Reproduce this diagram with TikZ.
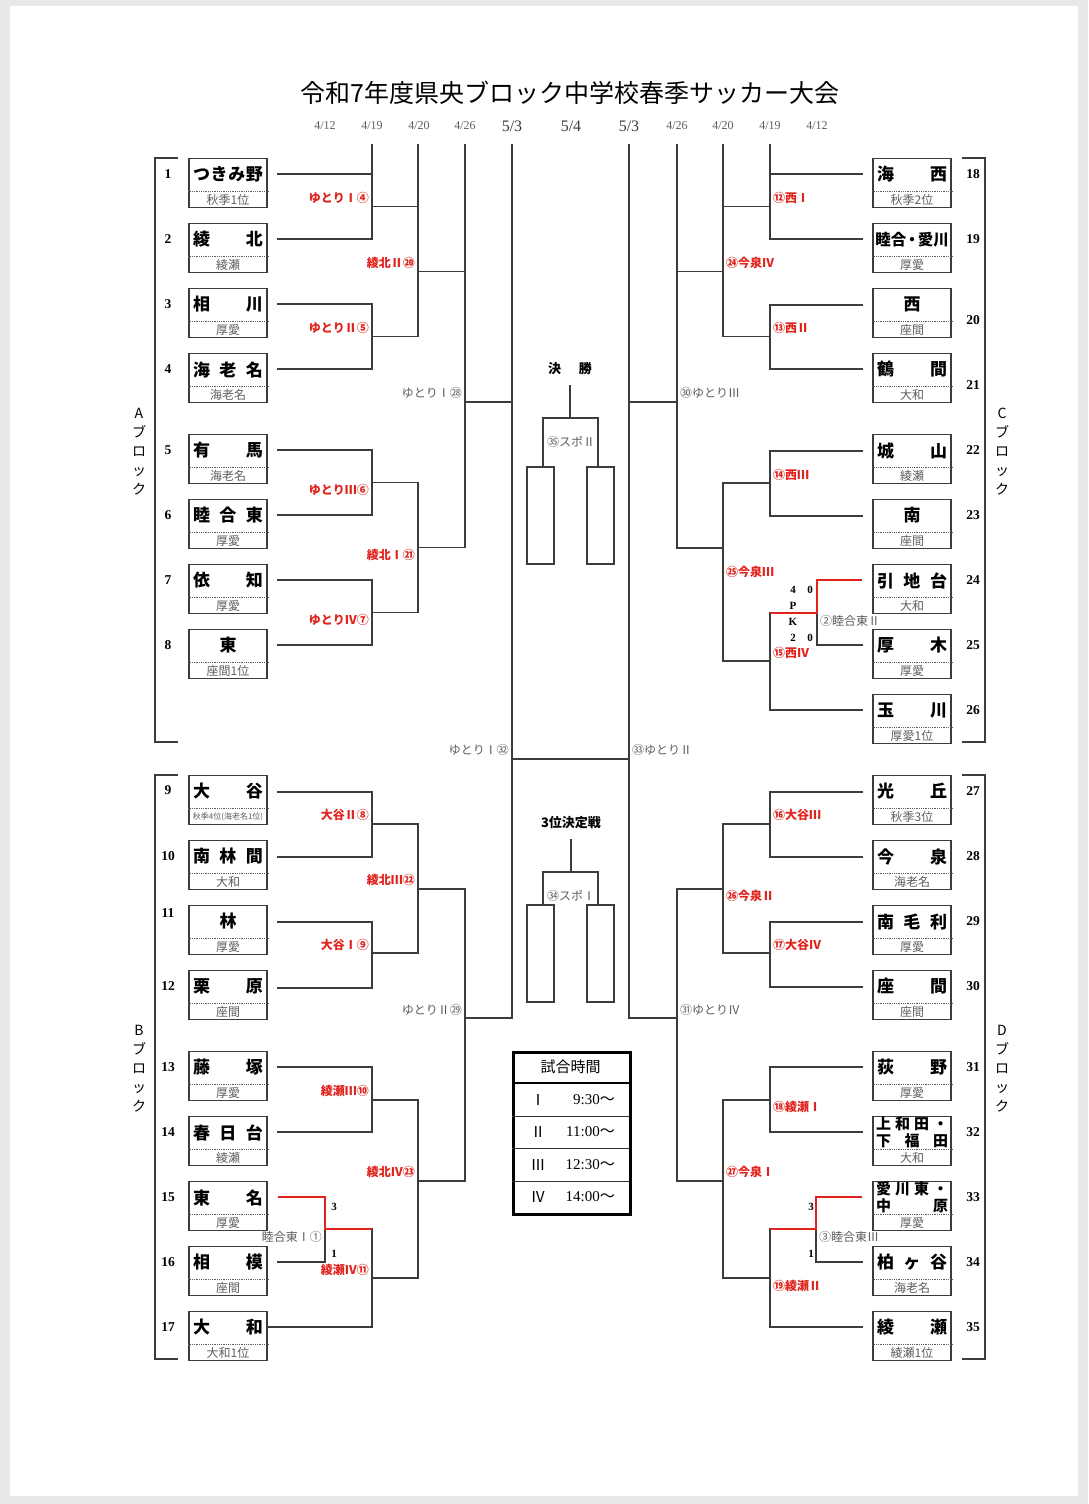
\documentclass[tikz,border=0pt]{standalone}
\usepackage{fontspec}
\setmainfont{Noto Sans CJK JP}
\newfontfamily\serif{Liberation Serif}
\definecolor{redA}{HTML}{E0231C}
\definecolor{lnc}{HTML}{3C3C3C}
\definecolor{grc}{HTML}{5E5E5E}
\tikzset{
 br/.style={draw=lnc,line width=1.2pt,line cap=rect},
 rd/.style={draw=redA,line width=2.2pt,line join=miter},
 sepln/.style={draw=grc,line width=0.5pt,dash pattern=on 1pt off 0.8pt},
 tname/.style={inner sep=0pt,font=\fontsize{17}{17}\selectfont\bfseries},
 tnamesm/.style={inner sep=0pt,font=\fontsize{15}{15}\selectfont\bfseries},
 tsub/.style={inner sep=0pt,font=\fontsize{12}{12}\selectfont,text=grc},
 rlab/.style={inner sep=0pt,font=\fontsize{12}{12}\selectfont\bfseries,text=redA},
 glab/.style={inner sep=0pt,font=\fontsize{12}{12}\selectfont,text=grc},
 num/.style={inner sep=0pt,font=\serif\fontsize{13.5}{14}\selectfont\bfseries},
 score/.style={inner sep=0pt,font=\serif\fontsize{11}{11}\selectfont\bfseries},
 datesm/.style={inner sep=0pt,font=\serif\fontsize{12}{12}\selectfont,text=grc},
 datebig/.style={inner sep=0pt,font=\serif\fontsize{16}{16}\selectfont,text=lnc},
 blk/.style={inner sep=0pt,align=center,font=\fontsize{14}{19}\selectfont},
 ctitle/.style={inner sep=0pt,font=\fontsize{13}{13}\selectfont\bfseries},
 ttab/.style={inner sep=0pt,font=\fontsize{15}{15}\selectfont},
}
% #1 node name, #2 centre x, #3 top y, #4 name, #5 sub
\newcommand\tbox[5]{%
 \node[draw=lnc,line width=1.3pt,minimum width=78pt,minimum height=49pt,inner sep=0pt,anchor=north] (#1) at (#2,#3) {};
 \draw[sepln] ([yshift=-33pt]#1.north west) -- ([yshift=-33pt]#1.north east);
 \node[tname] (#1n) at ([yshift=-16.5pt]#1.north) {\makebox[70pt]{#4}};
 \node[tsub] (#1s) at ([yshift=-41.5pt]#1.north) {#5};}
\newcommand\tboxtwo[6]{%
 \node[draw=lnc,line width=1.3pt,minimum width=78pt,minimum height=49pt,inner sep=0pt,anchor=north] (#1) at (#2,#3) {};
 \draw[sepln] ([yshift=-33pt]#1.north west) -- ([yshift=-33pt]#1.north east);
 \node[tnamesm] (#1a) at ([yshift=-8pt]#1.north) {\makebox[72pt]{#4}};
 \node[tnamesm] (#1b) at ([yshift=-24.5pt]#1.north) {\makebox[72pt]{#5}};
 \node[tsub] (#1s) at ([yshift=-41.5pt]#1.north) {#6};}
\begin{document}
\begin{tikzpicture}[x=1pt,y=-1pt]
\useasboundingbox (0,0) rectangle (1088,1504);
\fill[black!9] (0,0) rectangle (1088,1504);
\fill[white] (10,6) rectangle (1078,1496);
% title and dates
\node[inner sep=0pt,font=\fontsize{25}{25}\selectfont] (title) at (570,93) {令和7年度県央ブロック中学校春季サッカー大会};
\node[datesm] (d1) at (325,126) {4/12};
\node[datesm] (d2) at (372,126) {4/19};
\node[datesm] (d3) at (419,126) {4/20};
\node[datesm] (d4) at (465,126) {4/26};
\node[datebig] (d5) at (512,126) {5/3};
\node[datebig] (d6) at (571,126) {5/4};
\node[datebig] (d7) at (629,126) {5/3};
\node[datesm] (d8) at (677,126) {4/26};
\node[datesm] (d9) at (723,126) {4/20};
\node[datesm] (d10) at (770,126) {4/19};
\node[datesm] (d11) at (817,126) {4/12};
% block brackets
\draw[br,line cap=butt] (178,158)--(155,158)--(155,742)--(178,742);
\draw[br,line cap=butt] (178,775)--(155,775)--(155,1359)--(178,1359);
\draw[br,line cap=butt] (962,158)--(985,158)--(985,742)--(962,742);
\draw[br,line cap=butt] (962,775)--(985,775)--(985,1359)--(962,1359);
\node[blk] (bA) at (139,452) {A\\ブ\\ロ\\ッ\\ク};
\node[blk] (bC) at (1002,452) {C\\ブ\\ロ\\ッ\\ク};
\node[blk] (bB) at (139,1069) {B\\ブ\\ロ\\ッ\\ク};
\node[blk] (bD) at (1002,1069) {D\\ブ\\ロ\\ッ\\ク};
% left teams
\tbox{t1}{228}{158}{つ\hfill き\hfill み\hfill 野}{秋季1位}
\tbox{t2}{228}{223}{綾\hfill 北}{綾瀬}
\tbox{t3}{228}{288}{相\hfill 川}{厚愛}
\tbox{t4}{228}{353}{海\hfill 老\hfill 名}{海老名}
\tbox{t5}{228}{434}{有\hfill 馬}{海老名}
\tbox{t6}{228}{499}{睦\hfill 合\hfill 東}{厚愛}
\tbox{t7}{228}{564}{依\hfill 知}{厚愛}
\tbox{t8}{228}{629}{東}{座間1位}
\tbox{t9}{228}{775}{大\hfill 谷}{\fontsize{8}{8}\selectfont 秋季4位(海老名1位)}
\tbox{t10}{228}{840}{南\hfill 林\hfill 間}{大和}
\tbox{t11}{228}{905}{林}{厚愛}
\tbox{t12}{228}{970}{栗\hfill 原}{座間}
\tbox{t13}{228}{1051}{藤\hfill 塚}{厚愛}
\tbox{t14}{228}{1116}{春\hfill 日\hfill 台}{綾瀬}
\tbox{t15}{228}{1181}{東\hfill 名}{厚愛}
\tbox{t16}{228}{1246}{相\hfill 模}{座間}
\tbox{t17}{228}{1311}{大\hfill 和}{大和1位}
% right teams
\tbox{t18}{912}{158}{海\hfill 西}{秋季2位}
\tbox{t19}{912}{223}{\fontsize{15.5}{15.5}\selectfont 睦合\kern-2pt・\kern-2pt愛川}{厚愛}
\tbox{t20}{912}{288}{西}{座間}
\tbox{t21}{912}{353}{鶴\hfill 間}{大和}
\tbox{t22}{912}{434}{城\hfill 山}{綾瀬}
\tbox{t23}{912}{499}{南}{座間}
\tbox{t24}{912}{564}{引\hfill 地\hfill 台}{大和}
\tbox{t25}{912}{629}{厚\hfill 木}{厚愛}
\tbox{t26}{912}{694}{玉\hfill 川}{厚愛1位}
\tbox{t27}{912}{775}{光\hfill 丘}{秋季3位}
\tbox{t28}{912}{840}{今\hfill 泉}{海老名}
\tbox{t29}{912}{905}{南\hfill 毛\hfill 利}{厚愛}
\tbox{t30}{912}{970}{座\hfill 間}{座間}
\tbox{t31}{912}{1051}{荻\hfill 野}{厚愛}
\tboxtwo{t32}{912}{1116}{上\hfill 和\hfill 田\hfill ・}{下\hfill 福\hfill 田}{大和}
\tboxtwo{t33}{912}{1181}{愛\hfill 川\hfill 東\hfill ・}{中\hfill 原}{厚愛}
\tbox{t34}{912}{1246}{柏\hfill ヶ\hfill 谷}{海老名}
\tbox{t35}{912}{1311}{綾\hfill 瀬}{綾瀬1位}
% numbers
\foreach \k/\yy in {1/174,2/239,3/304,4/369,5/450,6/515,7/580,8/645,9/790,10/856,11/913,12/986,13/1067,14/1132,15/1197,16/1262,17/1327}
  \node[num] (n\k) at (168,\yy) {\k};
\foreach \k/\yy in {18/174,19/239,20/320,21/385,22/450,23/515,24/580,25/645,26/710,27/791,28/856,29/921,30/986,31/1067,32/1132,33/1197,34/1262,35/1327}
  \node[num] (n\k) at (973,\yy) {\k};
% ---- left bracket lines
\foreach \yy in {174,239,304,369,450,515,580,645,792,857,922,988,1067,1132}
  \draw[br] (278,\yy) -- (372,\yy);
\draw[br] (278,1262) -- (325,1262);
\draw[br] (267,1327) -- (372,1327);
\draw[br] (372,145) -- (372,239);
\foreach \p/\q in {304/369,450/515,580/645,792/857,922/988,1067/1132,1229/1327}
  \draw[br] (372,\p) -- (372,\q);
\draw[br] (418,145) -- (418,336.5);
\foreach \p/\q in {482.5/612.5,824/953,1100/1278}
  \draw[br] (418,\p) -- (418,\q);
\draw[br] (465,145) -- (465,547.5);
\draw[br] (465,889) -- (465,1181);
\draw[br] (512,145) -- (512,1018);
\draw[br] (325,1229) -- (325,1262);
\foreach \yy in {206.5,336.5,482.5,612.5,824,953,1100,1278}
  \draw[br] (372,\yy) -- (418,\yy);
\foreach \yy in {271.5,547.5,889,1181}
  \draw[br] (418,\yy) -- (465,\yy);
\draw[br] (465,402) -- (512,402);
\draw[br] (465,1018) -- (512,1018);
\draw[rd] (278,1197) -- (325,1197) -- (325,1229) -- (372,1229);
% ---- right bracket lines
\foreach \yy in {174,239,305,369,451,516,710,792,857,922,987,1067,1132,1327}
  \draw[br] (862,\yy) -- (770,\yy);
\draw[br] (862,645) -- (817,645);
\draw[br] (862,1262) -- (816,1262);
\draw[br] (770,145) -- (770,239);
\foreach \p/\q in {305/369,451/516,613/710,792/857,922/987,1067/1132,1229/1327}
  \draw[br] (770,\p) -- (770,\q);
\draw[br] (723,145) -- (723,336.5);
\foreach \p/\q in {483/661,824/953,1100/1278}
  \draw[br] (723,\p) -- (723,\q);
\draw[br] (677,145) -- (677,548);
\draw[br] (677,889) -- (677,1181);
\draw[br] (629,145) -- (629,1018);
\draw[br] (817,613) -- (817,645);
\draw[br] (816,1229) -- (816,1262);
\foreach \yy in {206.5,336.5,483,661,824,953,1100,1278}
  \draw[br] (770,\yy) -- (723,\yy);
\foreach \yy in {271.5,548,889,1181}
  \draw[br] (723,\yy) -- (677,\yy);
\draw[br] (677,402) -- (629,402);
\draw[br] (677,1018) -- (629,1018);
\draw[rd] (862,580) -- (817,580) -- (817,613) -- (770,613);
\draw[rd] (862,1197) -- (816,1197) -- (816,1229) -- (770,1229);
% final
\draw[br] (512,759) -- (629,759);
% centre finals
\node[ctitle] (fin) at (570,369) {\makebox[44pt]{決\hfill 勝}};
\draw[br] (570,386) -- (570,418);
\draw[br] (543,467) -- (543,418) -- (598,418) -- (598,467);
\node[draw=lnc,line width=1.2pt,minimum width=27pt,minimum height=97pt,inner sep=0pt] (fL) at (540.5,515.5) {};
\node[draw=lnc,line width=1.2pt,minimum width=27pt,minimum height=97pt,inner sep=0pt] (fR) at (600.5,515.5) {};
\node[glab] (m35) at (571,442) {㉟スポⅡ};
\node[ctitle] (third) at (571,823) {3位決定戦};
\draw[br] (571,840) -- (571,872);
\draw[br] (543,905) -- (543,872) -- (598,872) -- (598,905);
\node[draw=lnc,line width=1.2pt,minimum width=27pt,minimum height=97pt,inner sep=0pt] (tL) at (540.5,953.5) {};
\node[draw=lnc,line width=1.2pt,minimum width=27pt,minimum height=97pt,inner sep=0pt] (tR) at (600.5,953.5) {};
\node[glab] (m34) at (571,896) {㉞スポⅠ};
% match labels left
\node[rlab,anchor=east] (m4) at (369,198) {ゆとりⅠ④};
\node[rlab,anchor=east] (m5) at (369,328) {ゆとりⅡ⑤};
\node[rlab,anchor=east] (m20) at (415,263) {綾北Ⅱ⑳};
\node[rlab,anchor=east] (m6) at (369,490) {ゆとりⅢ⑥};
\node[rlab,anchor=east] (m7) at (369,620) {ゆとりⅣ⑦};
\node[rlab,anchor=east] (m21) at (415,555) {綾北Ⅰ㉑};
\node[glab,anchor=east] (m28) at (462,393) {ゆとりⅠ㉘};
\node[rlab,anchor=east] (m8) at (369,815) {大谷Ⅱ⑧};
\node[rlab,anchor=east] (m9) at (369,945) {大谷Ⅰ⑨};
\node[rlab,anchor=east] (m22) at (415,880) {綾北Ⅲ㉒};
\node[glab,anchor=east] (m29) at (462,1010) {ゆとりⅡ㉙};
\node[rlab,anchor=east] (m10) at (369,1091) {綾瀬Ⅲ⑩};
\node[rlab,anchor=east] (m11) at (369,1270) {綾瀬Ⅳ⑪};
\node[rlab,anchor=east] (m23) at (415,1172) {綾北Ⅳ㉓};
\node[glab,anchor=east] (m1) at (322,1237) {睦合東Ⅰ①};
\node[glab,anchor=east] (m32) at (509,750) {ゆとりⅠ㉜};
% match labels right
\node[rlab,anchor=west] (m12) at (773,198) {⑫西Ⅰ};
\node[rlab,anchor=west] (m13) at (773,328) {⑬西Ⅱ};
\node[rlab,anchor=west] (m24) at (726,263) {㉔今泉Ⅳ};
\node[glab,anchor=west] (m30) at (680,393) {㉚ゆとりⅢ};
\node[rlab,anchor=west] (m14) at (773,475) {⑭西Ⅲ};
\node[rlab,anchor=west] (m15) at (773,653) {⑮西Ⅳ};
\node[rlab,anchor=west] (m25) at (726,572) {㉕今泉Ⅲ};
\node[glab,anchor=west] (m2) at (820,621) {②睦合東Ⅱ};
\node[glab,anchor=west] (m33) at (632,750) {㉝ゆとりⅡ};
\node[rlab,anchor=west] (m16) at (773,815) {⑯大谷Ⅲ};
\node[rlab,anchor=west] (m17) at (773,945) {⑰大谷Ⅳ};
\node[rlab,anchor=west] (m26) at (726,896) {㉖今泉Ⅱ};
\node[glab,anchor=west] (m31) at (680,1010) {㉛ゆとりⅣ};
\node[rlab,anchor=west] (m18) at (773,1107) {⑱綾瀬Ⅰ};
\node[rlab,anchor=west] (m19) at (773,1286) {⑲綾瀬Ⅱ};
\node[rlab,anchor=west] (m27) at (726,1172) {㉗今泉Ⅰ};
\node[glab,anchor=west] (m3) at (819,1237) {③睦合東Ⅲ};
% scores
\node[score] (s1) at (793,590) {4};
\node[score] (s2) at (810,590) {0};
\node[score] (s3) at (793,606) {P};
\node[score] (s4) at (793,622) {K};
\node[score] (s5) at (793,638) {2};
\node[score] (s6) at (810,638) {0};
\node[score] (s7) at (334,1207) {3};
\node[score] (s8) at (334,1254) {1};
\node[score] (s9) at (811,1207) {3};
\node[score] (s10) at (811,1254) {1};
% timetable
\node[draw=black,line width=2.5pt,minimum width=117pt,minimum height=162pt,inner sep=0pt,anchor=north west] (tt) at (512,1051) {};
\draw[draw=black,line width=1.6pt] (512,1083) -- (629,1083);
\foreach \yy in {1116,1148.5,1181}
  \draw[draw=black!80,line width=1pt] (512,\yy) -- (629,\yy);
\node[ttab] (tth) at (570.5,1067) {試合時間};
\node[ttab] (r1) at (538,1099.5) {Ⅰ};
\node[ttab,anchor=east] (t1t) at (615,1099.5) {{\serif 9:30}～};
\node[ttab] (r2) at (538,1132) {Ⅱ};
\node[ttab,anchor=east] (t2t) at (615,1132) {{\serif 11:00}～};
\node[ttab] (r3) at (538,1165) {Ⅲ};
\node[ttab,anchor=east] (t3t) at (615,1165) {{\serif 12:30}～};
\node[ttab] (r4) at (538,1197) {Ⅳ};
\node[ttab,anchor=east] (t4t) at (615,1197) {{\serif 14:00}～};
\end{tikzpicture}
\end{document}
